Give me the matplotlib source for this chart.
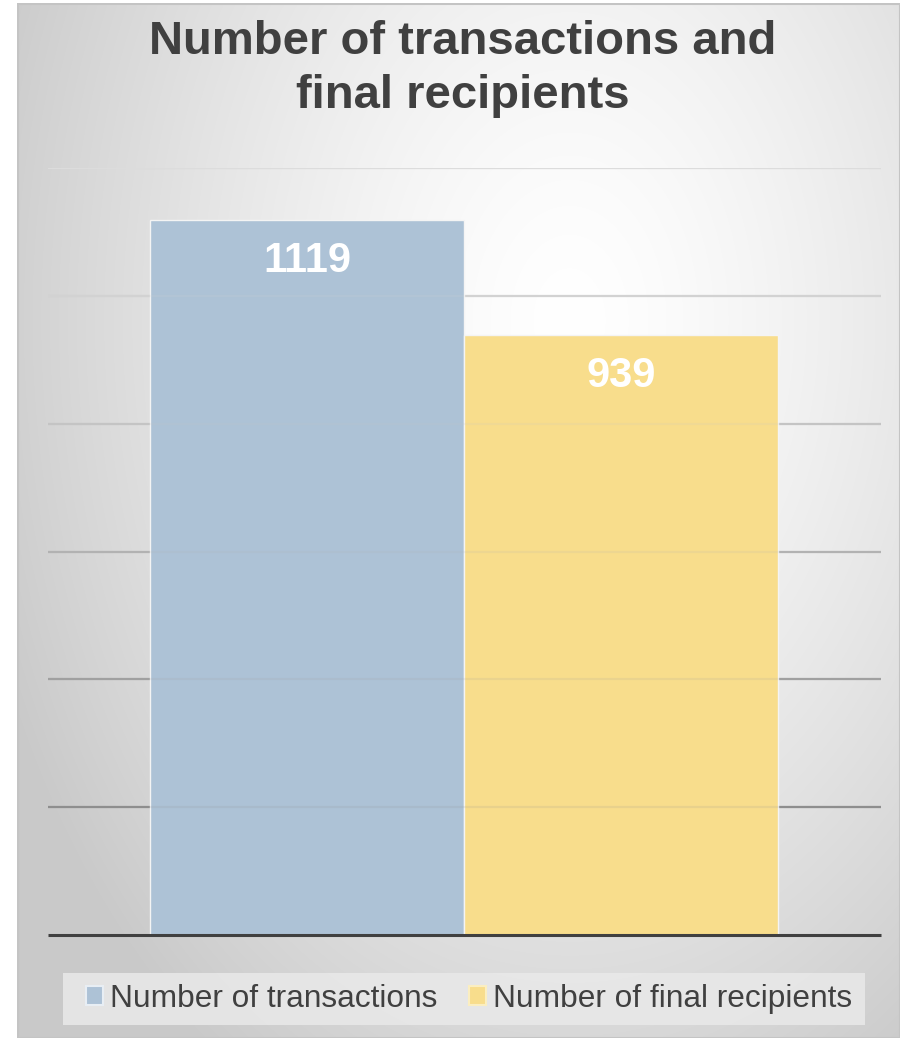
import numpy as np
import matplotlib
matplotlib.use("Agg")
import matplotlib.pyplot as plt
from matplotlib.patches import Patch, Rectangle

plt.rcParams['font.family'] = ['Liberation Sans', 'DejaVu Sans']

series = ['Number of transactions', 'Number of final recipients']
values = [1119, 939]
colors = ['#adc2d6', '#f8dd8c']
yticks = [0, 200, 400, 600, 800, 1000, 1200]

W, H = 900, 1038
fig = plt.figure(figsize=(W / 100, H / 100), dpi=100)
fig.patch.set_facecolor('white')

# radial gradient background of the chart area
bg = fig.add_axes([17 / W, 0, (W - 17) / W, (H - 3) / H], zorder=-5)
gx, gy = np.meshgrid(np.linspace(17, W, 300), np.linspace(3, H, 350))
r = np.hypot((gx - 570) / 620, (gy - 320) / 900)
shade = 1 - 0.21 * np.clip(r, 0, 1.0) ** 1.4
bg.imshow(np.dstack([shade] * 3), extent=[17, W, H, 3], aspect='auto', interpolation='bilinear')
bg.set_xlim(17, W)
bg.set_ylim(H, 3)
bg.axis('off')
bg.add_patch(Rectangle((17.5, 3.5), W - 18, H - 4, fill=False, edgecolor='#c4c4c4', lw=1.5))
# legend background box
bg.add_patch(Rectangle((63, 973), 802, 52, facecolor='#e9e9e9', alpha=0.85, edgecolor='none'))

ax = fig.add_axes([48 / W, (H - 935) / H, (881 - 48) / W, (935 - 168) / H])
ax.patch.set_alpha(0)

grid_cols = ['#404040', '#8e8e8e', '#a0a0a0', '#b2b2b2', '#c4c4c4', '#d2d2d2', '#dcdcdc']
for t, c in zip(yticks[1:], grid_cols[1:]):
    ax.axhline(t, color=c, lw=1.6, zorder=1)
    ax.axhline(t, color=c, lw=1.6, alpha=0.15, zorder=3)

bars = ax.bar(range(len(values)), values, width=1.0, color=colors,
              edgecolor='#f4f4f4', linewidth=1.0, zorder=2)
for b, v in zip(bars, values):
    ax.text(b.get_x() + b.get_width() / 2, v - 64, str(v), ha='center', va='center',
            color='white', fontsize=30, fontweight='bold', zorder=4)

ax.axhline(0, color='#404040', lw=2.2, zorder=5, clip_on=False, solid_capstyle='butt')
ax.set_xlim(-0.825, 1.828)
ax.set_ylim(0, 1200)
ax.set_yticks(yticks)
ax.set_xticks([])
ax.tick_params(left=False, labelleft=False)
for s in ax.spines.values():
    s.set_visible(False)

fig.text(463 / W, 1 - 69 / H, 'Number of transactions and\nfinal recipients', ha='center', va='center',
         fontsize=34, fontweight='bold', color='#404040', linespacing=1.27)

handles = [Patch(facecolor=c, edgecolor='#e8eef4' if i == 0 else '#fbeec0', lw=1.5) for i, c in enumerate(colors)]
leg = fig.legend(handles, series, loc='center', bbox_to_anchor=(469 / W, 1 - 999 / H), ncol=2,
                 fontsize=22.8, frameon=False, handlelength=0.55, handleheight=0.55,
                 handletextpad=0.22, columnspacing=0.98, labelcolor='#404040')

fig.savefig('out.png', dpi=100)
